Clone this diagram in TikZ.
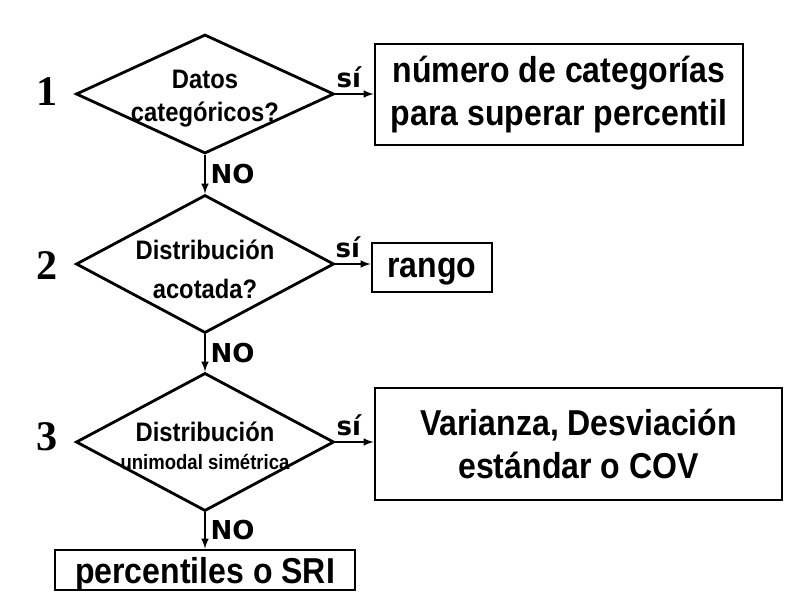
\documentclass[tikz,border=0pt]{standalone}
\usepackage{fontspec}
\setmainfont{Liberation Sans}
\newfontfamily\boxfont[FakeStretch=0.89]{Liberation Sans}
\newfontfamily\tagfont[BoldFont={DejaVu Sans Bold}]{DejaVu Sans}
\newfontfamily\numfont{Liberation Serif}
\usepackage{tikz}
\usetikzlibrary{shapes.geometric,arrows}

\tikzset{
  decision/.style={diamond, draw, line width=2pt, inner sep=0pt, minimum width=6.45cm, minimum height=3.45cm},
  qtext/.style={align=center, font=\boxfont\bfseries\fontsize{19}{23.5}\selectfont},
  answer/.style={draw, line width=2pt, align=center, font=\boxfont\bfseries\fontsize{25.6}{30}\selectfont},
  tag/.style={font=\tagfont\bfseries\fontsize{18.5}{20}\selectfont},
  stepnum/.style={font=\numfont\bfseries\fontsize{30}{32}\selectfont}
}

\begin{document}
\begin{tikzpicture}[x=0.025cm, y=-0.025cm]
 \useasboundingbox (0,0) rectangle (804,598);
 % questions
 \node[decision, minimum height=2.975cm, label={[qtext, yshift=-3.5pt]center:{Datos\\categóricos?}}] (d1) at (205,94) {};
 \node[decision, label={[qtext, yshift=-4pt]center:{Distribución\\[4.2pt]acotada?}}] (d2) at (205,264) {};
 \node[decision, label={[qtext, yshift=-2.5pt]center:{Distribución\\[-3.5pt]{\fontsize{14.8}{16}\selectfont unimodal simétrica}}}] (d3) at (205,442) {};
 \node[stepnum] (n1) at (47,92) {1};
 \node[stepnum] (n2) at (47,266) {2};
 \node[stepnum] (n3) at (47,437) {3};
 % answers
 \node[answer, minimum width=9.2cm, minimum height=2.525cm] (b1) at (559,94.5) {número de categorías\\para superar percentil};
 \node[answer, minimum width=3cm, minimum height=1.225cm, text depth=0pt] (b2) at (432,267.5) {rango};
 \node[answer, minimum width=10.175cm, minimum height=2.8cm] (b3) at (578.5,444) {Varianza, Desviación\\estándar o COV};
 \node[answer, minimum width=7.5cm, minimum height=1cm, text depth=0pt] (b4) at (205,570) {percentiles o SRI};
 \path[-latex, line width=1.4pt]
  (d1.east) edge node[tag, above, pos=0.35] {sí} (b1.west |- d1.east)
  (d2.east) edge node[tag, above, pos=0.35] {sí} (b2.west |- d2.east)
  (d3.east) edge node[tag, above, pos=0.35] {sí} (b3.west |- d3.east)
  (d1) edge node[tag, right] {NO} (d2)
  (d2) edge node[tag, right] {NO} (d3)
  (d3) edge node[tag, right] {NO} (b4)
;
\end{tikzpicture}
\end{document}
